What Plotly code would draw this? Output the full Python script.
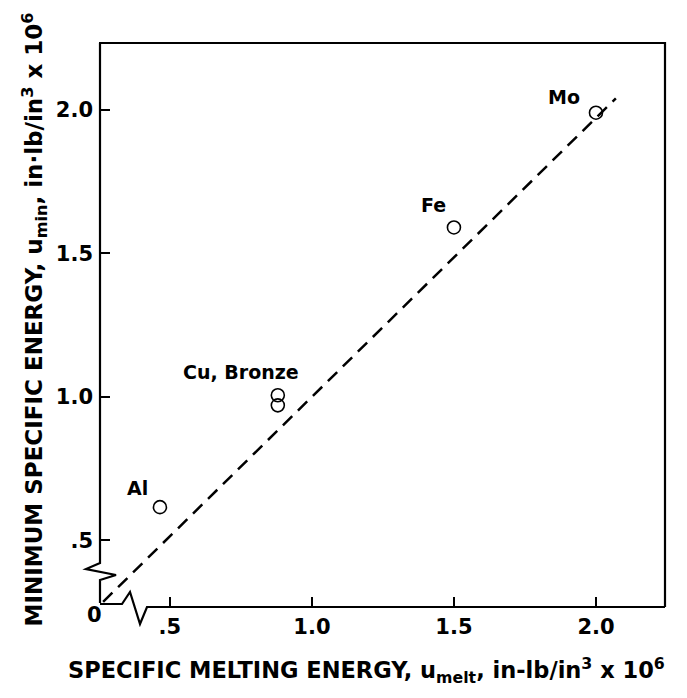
import plotly.graph_objects as go

# ---- data ----
materials = ["Mo", "Fe", "Cu", "Bronze", "Al"]
u_melt = [2.0, 1.5, 0.88, 0.88, 0.465]
u_min = [1.99, 1.59, 1.005, 0.97, 0.615]
point_labels = ["Mo", "Fe", "Cu, Bronze", "", "Al"]

fit_x = [0.265, 2.07]
fit_y = [0.285, 2.04]

x_tickvals = [0.5, 1.0, 1.5, 2.0]
x_ticktext = [".5", "1.0", "1.5", "2.0"]
y_tickvals = [0.5, 1.0, 1.5, 2.0]
y_ticktext = [".5", "1.0", "1.5", "2.0"]

W, H = 687, 698
L, R, T, B = 100, 665, 43, 607  # plot area in pixels
FONT = "DejaVu Sans"

fig = go.Figure()
fig.add_trace(go.Scatter(
    x=fit_x, y=fit_y, mode="lines",
    line=dict(color="black", width=2.5, dash="13px,8px"),
    hoverinfo="skip", showlegend=False))
fig.add_trace(go.Scatter(
    x=u_melt, y=u_min, mode="markers", text=materials,
    marker=dict(symbol="circle-open", size=13, color="black",
                line=dict(width=1.6, color="black")),
    showlegend=False))

offsets = [(-32, 16), (-20, 22), (-37, 23), (0, 0), (-22, 19)]
for xv, yv, lab, (dx, dy) in zip(u_melt, u_min, point_labels, offsets):
    if lab:
        fig.add_annotation(x=xv, y=yv, text="<b>" + lab + "</b>", showarrow=False,
                           xshift=dx, yshift=dy,
                           font=dict(family=FONT, size=19, color="black"))


def px(x, y):
    return (x - L) / (R - L), (B - y) / (B - T)


def path(pts):
    s = ""
    for i, (x, y) in enumerate(pts):
        a, b = px(x, y)
        s += ("M" if i == 0 else "L") + f"{a:.5f},{b:.5f} "
    return s.strip()


frame_pts = [
    # left axis with break
    [(100, 603), (100, 580), (116, 575), (86, 569), (100, 563), (100, 43)],
    # top and right
    [(99, 43), (665, 43), (665, 607)],
    # bottom axis with break
    [(100, 604), (122, 604), (130, 592), (140, 624), (147, 607), (665, 607)],
]
shapes = []
for pts in frame_pts:
    shapes.append(dict(type="path", xref="paper", yref="paper", path=path(pts),
                       line=dict(color="black", width=2.2)))

tickfont = dict(family=FONT, size=21, color="black", weight="bold")
fig.update_layout(
    width=W, height=H,
    margin=dict(l=L, r=W - R, t=T, b=H - B, pad=0),
    paper_bgcolor="white", plot_bgcolor="white",
    shapes=shapes,
    xaxis=dict(range=[0.254, 2.243], tickvals=x_tickvals, ticktext=x_ticktext,
               ticks="inside", ticklen=10, tickwidth=1.5, tickcolor="black",
               showgrid=False, zeroline=False, showline=False,
               ticklabelstandoff=5, tickfont=tickfont),
    yaxis=dict(range=[0.267, 2.233], tickvals=y_tickvals, ticktext=y_ticktext,
               ticks="inside", ticklen=10, tickwidth=1.5, tickcolor="black",
               showgrid=False, zeroline=False, showline=False,
               ticklabelstandoff=6, tickfont=tickfont),
)

# corner zero label
fig.add_annotation(x=0, y=0, xref="paper", yref="paper", text="<b>0</b>", showarrow=False,
                   xshift=-15, yshift=-22,
                   font=dict(family=FONT, size=21, color="black"))

# axis titles
fig.add_annotation(
    x=(366 - L) / (R - L), y=(B - 689) / (B - T), xref="paper", yref="paper",
    text="<b>SPECIFIC MELTING ENERGY, u<sub>melt</sub>, in-lb/in<sup>3</sup> x 10<sup>6</sup></b>",
    showarrow=False, font=dict(family=FONT, size=22.5, color="black"))
fig.add_annotation(
    x=(15 - L) / (R - L), y=(B - 320) / (B - T), xref="paper", yref="paper",
    text="<b>MINIMUM SPECIFIC ENERGY, u<sub>min</sub>, in·lb/in<sup>3</sup> x 10<sup>6</sup></b>",
    textangle=-90, showarrow=False, font=dict(family=FONT, size=23, color="black"))

fig.write_html("out.html")
